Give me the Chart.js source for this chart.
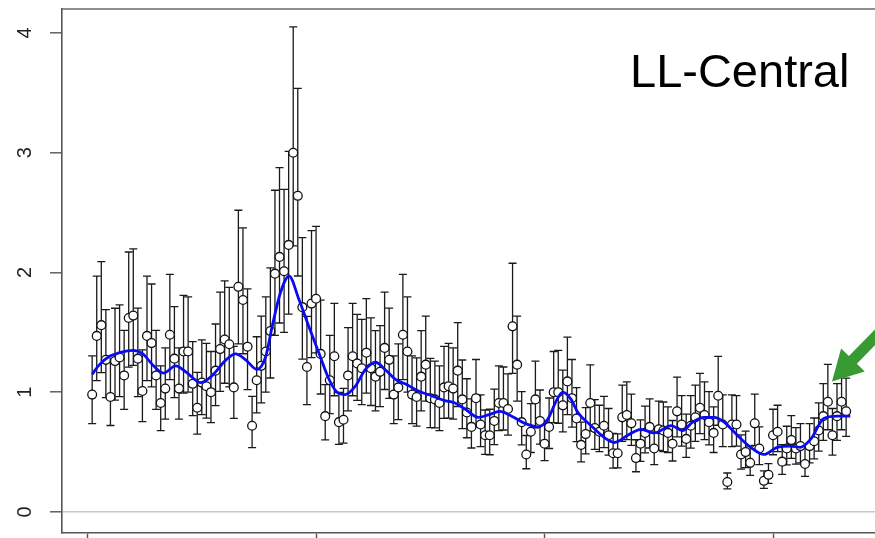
<!DOCTYPE html>
<html>
<head>
<meta charset="utf-8">
<script src="https://cdn.jsdelivr.net/npm/chart.js@4.4.1/dist/chart.umd.min.js"></script>
<style>
html,body{margin:0;padding:0;background:#fff;overflow:hidden}
#wrap{position:relative;width:882px;height:538px}
</style>
</head>
<body>
<div id="wrap"><canvas id="myChart" width="882" height="538"></canvas></div>
<script>
// observed values (index 1..166)
const values = [
  0.98,1.47,1.56,1.27,0.96,1.26,1.29,1.14,1.62,1.64,
  1.28,1.01,1.47,1.41,1.14,0.91,1.03,1.48,1.28,1.03,
  1.34,1.34,1.07,0.87,1.08,1.05,1.00,1.18,1.36,1.44,
  1.40,1.04,1.88,1.77,1.38,0.72,1.10,1.22,1.34,1.51,
  1.99,2.13,2.01,2.23,3.00,2.64,1.71,1.21,1.74,1.78,
  1.32,0.80,1.10,1.30,0.75,0.77,1.14,1.30,1.24,1.20,
  1.33,1.20,1.13,1.17,1.37,1.27,0.98,1.04,1.48,1.34,
  0.98,0.96,1.13,1.23,0.95,0.94,0.91,1.04,1.05,1.03,
  1.18,0.94,0.83,0.71,0.95,0.73,0.64,0.64,0.76,0.91,
  0.91,0.86,1.55,1.23,0.75,0.48,0.67,0.94,0.76,0.57,
  0.71,1.00,1.00,0.89,1.09,0.95,0.78,0.56,0.65,0.91,
  0.70,0.67,0.72,0.64,0.49,0.49,0.79,0.81,0.74,0.45,
  0.57,0.66,0.71,0.53,0.69,0.68,0.66,0.57,0.84,0.73,
  0.61,0.72,0.79,0.87,0.81,0.75,0.66,0.97,0.73,0.25,
  0.73,0.73,0.48,0.50,0.41,0.74,0.53,0.26,0.31,0.64,
  0.67,0.42,0.53,0.60,0.53,0.55,0.40,0.55,0.59,0.68,
  0.80,0.92,0.64,0.80,0.92,0.84
]
// multiplicative CI factor per point (upper = v*f, lower = v/f)
const ciFactor = [
  1.33,1.34,1.34,1.33,1.33,1.35,1.34,1.33,1.34,1.34,
  1.33,1.34,1.34,1.35,1.33,1.34,1.33,1.34,1.34,1.33,
  1.35,1.34,1.33,1.34,1.33,1.34,1.34,1.33,1.35,1.34,
  1.34,1.33,1.34,1.34,1.35,1.34,1.33,1.34,1.34,1.35,
  1.35,1.35,1.34,1.35,1.35,1.34,1.34,1.35,1.35,1.34,
  1.34,1.33,1.34,1.34,1.33,1.34,1.35,1.34,1.33,1.34,
  1.34,1.35,1.34,1.33,1.34,1.34,1.33,1.35,1.34,1.34,
  1.33,1.34,1.34,1.33,1.35,1.34,1.34,1.33,1.34,1.33,
  1.34,1.35,1.34,1.33,1.34,1.34,1.33,1.34,1.35,1.34,
  1.33,1.34,1.34,1.33,1.34,1.33,1.35,1.34,1.34,1.33,
  1.34,1.34,1.35,1.33,1.34,1.34,1.33,1.34,1.34,1.35,
  1.34,1.33,1.34,1.35,1.34,1.33,1.34,1.34,1.33,1.34,
  1.35,1.34,1.33,1.34,1.34,1.35,1.33,1.34,1.34,1.33,
  1.34,1.35,1.34,1.33,1.34,1.34,1.33,1.34,1.34,1.30,
  1.34,1.33,1.34,1.35,1.34,1.33,1.34,1.32,1.30,1.34,
  1.33,1.34,1.35,1.34,1.33,1.34,1.35,1.34,1.33,1.34,
  1.34,1.34,1.35,1.34,1.34,1.33
]
const xIndex = values.map((v, i) => i + 1)

// smoothed fit (blue curve)
const smoothX = [1.0,2.6,4.8,7.0,9.9,12.1,14.2,16.6,19.3,21.5,24.8,27.3,30.3,32.4,34.6,37.1,39.0,40.4,42.2,44.1,
  46.2,48.4,50.6,52.8,54.6,56.4,58.6,60.8,63.0,65.1,67.3,69.5,72.4,75.3,78.2,80.4,82.6,85.5,87.7,90.2,
  92.8,95.7,98.6,100.8,102.6,104.0,105.8,107.3,110.2,113.1,115.3,118.2,121.1,124.0,127.7,130.2,132.4,134.9,137.1,139.3,
  142.2,145.1,148.0,150.9,153.8,156.0,158.3,161.1,164.0,166.9]
const smoothY = [1.15,1.23,1.30,1.33,1.35,1.32,1.23,1.16,1.22,1.17,1.08,1.14,1.27,1.32,1.27,1.19,1.30,1.55,1.83,1.97,
  1.78,1.55,1.33,1.11,1.00,0.98,1.05,1.19,1.25,1.19,1.11,1.07,1.01,0.97,0.93,0.91,0.86,0.79,0.81,0.84,
  0.80,0.74,0.71,0.78,0.93,1.00,0.94,0.83,0.72,0.62,0.58,0.64,0.69,0.66,0.72,0.68,0.75,0.79,0.79,0.75,
  0.64,0.54,0.48,0.54,0.55,0.54,0.61,0.78,0.80,0.80]

const xTicks = [0, 50, 100, 150]
const yTicks = [0, 1, 2, 3, 4]
const panelLabel = 'LL-Central'
const arrowTip = {x: 162.9, y: 1.09}

const errorBars = {
  id: 'errorBars',
  beforeDatasetsDraw(chart){
    const {ctx, chartArea, scales: {x, y}} = chart
    ctx.save()
    // top frame line
    ctx.strokeStyle = '#6a6a6a'
    ctx.lineWidth = 1.6
    ctx.beginPath()
    ctx.moveTo(chartArea.left, chartArea.top)
    ctx.lineTo(chartArea.right, chartArea.top)
    ctx.stroke()
    ctx.strokeStyle = '#1a1a1a'
    ctx.lineWidth = 1.3
    values.forEach((v, i) => {
      const px = x.getPixelForValue(xIndex[i])
      const hi = y.getPixelForValue(v * ciFactor[i])
      const lo = y.getPixelForValue(v / ciFactor[i])
      ctx.beginPath()
      ctx.moveTo(px, hi); ctx.lineTo(px, lo)
      ctx.moveTo(px - 4, hi); ctx.lineTo(px + 4, hi)
      ctx.moveTo(px - 4, lo); ctx.lineTo(px + 4, lo)
      ctx.stroke()
    })
    ctx.restore()
  },
  afterDatasetsDraw(chart){
    const {ctx, scales: {x, y}} = chart
    ctx.save()
    // panel label
    ctx.fillStyle = '#000'
    ctx.font = '47px "Liberation Sans", Arial, sans-serif'
    ctx.textBaseline = 'alphabetic'
    ctx.fillText(panelLabel, 630, 87)
    // green arrow
    const tx = x.getPixelForValue(arrowTip.x)
    const ty = y.getPixelForValue(arrowTip.y)
    const ux = 0.698, uy = -0.716
    const nx = -uy, ny = ux
    const headLen = 30, headHalf = 16.5, shaft = 5.5, far = 120
    const bx = tx + ux * headLen, by = ty + uy * headLen
    ctx.fillStyle = '#389a33'
    ctx.beginPath()
    ctx.moveTo(tx, ty)
    ctx.lineTo(bx + nx * headHalf, by + ny * headHalf)
    ctx.lineTo(bx + nx * shaft, by + ny * shaft)
    ctx.lineTo(tx + ux * far + nx * shaft, ty + uy * far + ny * shaft)
    ctx.lineTo(tx + ux * far - nx * shaft, ty + uy * far - ny * shaft)
    ctx.lineTo(bx - nx * shaft, by - ny * shaft)
    ctx.lineTo(bx - nx * headHalf, by - ny * headHalf)
    ctx.closePath()
    ctx.fill()
    ctx.restore()
  }
}

const ctx = document.getElementById('myChart')
new Chart(ctx, {
  data: {
    datasets: [{
      type: 'line',
      data: smoothX.map((v, i) => ({x: v, y: smoothY[i]})),
      borderColor: '#0a0af5',
      borderWidth: 2.8,
      pointRadius: 0,
      cubicInterpolationMode: 'monotone',
      order: 0
    }, {
      type: 'scatter',
      data: xIndex.map((v, i) => ({x: v, y: values[i]})),
      pointRadius: 4.4,
      pointBackgroundColor: '#fff',
      pointBorderColor: '#111',
      pointBorderWidth: 1.3,
      order: 1
    }]
  },
  options: {
    responsive: false,
    animation: false,
    layout: {padding: {top: 9, right: 3, left: 0, bottom: 0}},
    plugins: {legend: {display: false}, tooltip: {enabled: false}},
    scales: {
      x: {
        type: 'linear',
        min: -5.6,
        max: 172.6,
        afterBuildTicks: s => { s.ticks = xTicks.map(v => ({value: v})) },
        afterFit: s => { s.height = 5; s.paddingLeft = 0; s.paddingRight = 0 },
        border: {color: '#555', width: 1.6},
        grid: {drawOnChartArea: false, tickLength: 12, tickColor: '#555', tickWidth: 1.4},
        ticks: {display: false}
      },
      y: {
        type: 'linear',
        min: -0.17,
        max: 4.2,
        afterBuildTicks: s => { s.ticks = yTicks.map(v => ({value: v})) },
        afterFit: s => { s.width = 62; s.paddingTop = 0; s.paddingBottom = 0 },
        border: {color: '#555', width: 1.6},
        grid: {
          color: c => c.tick && c.tick.value === 0 ? '#c8c8c8' : 'rgba(0,0,0,0)',
          lineWidth: 1.6,
          tickLength: 12,
          tickColor: '#555',
          tickWidth: 1.4
        },
        ticks: {
          minRotation: 90,
          maxRotation: 90,
          crossAlign: 'center',
          padding: 19,
          color: '#222',
          font: {family: '"Liberation Sans", Arial, sans-serif', size: 20}
        }
      }
    }
  },
  plugins: [errorBars]
})
</script>
</body>
</html>
